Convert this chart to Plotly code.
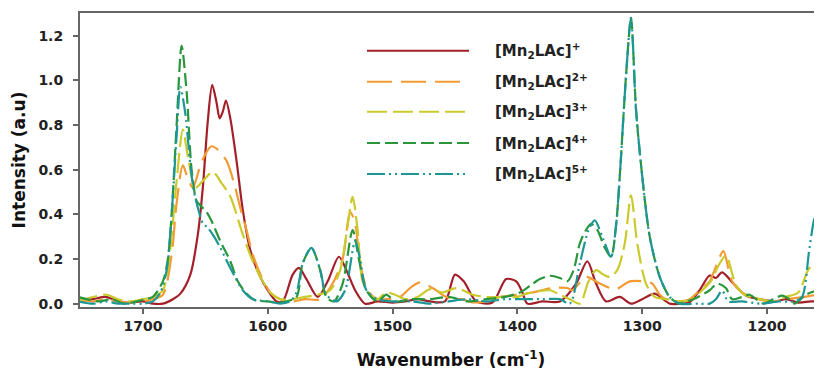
import plotly.graph_objects as go

# ---------------- data ----------------
series_names = ["[Mn<sub>2</sub>LAc]<sup>+</sup>", "[Mn<sub>2</sub>LAc]<sup>2+</sup>",
                "[Mn<sub>2</sub>LAc]<sup>3+</sup>", "[Mn<sub>2</sub>LAc]<sup>4+</sup>",
                "[Mn<sub>2</sub>LAc]<sup>5+</sup>"]

wn_1 = [1752, 1740, 1730, 1722, 1712, 1700, 1692, 1684, 1676, 1670, 1662, 1656, 1652, 1648, 1644.5,
        1641, 1638.5, 1636, 1633.5, 1630, 1625, 1620, 1614, 1606, 1600, 1593, 1588, 1580, 1575, 1569,
        1560, 1552, 1543, 1537, 1530, 1522, 1512, 1500, 1490, 1480, 1470, 1458, 1450, 1443, 1433,
        1420, 1409, 1401, 1396, 1392, 1380, 1366, 1353, 1344, 1337, 1329, 1318, 1309, 1300, 1290,
        1278, 1270, 1262, 1254, 1246, 1241, 1236, 1227, 1217, 1206, 1193, 1185, 1175, 1165, 1155]
int_1 = [0.01, 0.02, 0.03, 0.015, 0.005, 0.01, 0.0, 0.0, 0.02, 0.045, 0.13, 0.31, 0.52, 0.82, 0.98,
         0.90, 0.83, 0.86, 0.91, 0.83, 0.64, 0.42, 0.24, 0.12, 0.06, 0.01, 0.01, 0.13, 0.16, 0.11,
         0.03, 0.10, 0.21, 0.15, 0.06, 0.0, 0.01, 0.005, 0.01, 0.02, 0.01, 0.01, 0.13, 0.10, 0.01,
         0.005, 0.11, 0.10, 0.05, 0.0, 0.01, 0.01, 0.09, 0.19, 0.09, 0.01, 0.03, 0.0, 0.02, 0.045,
         0.0, 0.0, 0.006, 0.06, 0.126, 0.115, 0.14, 0.09, 0.036, 0.02, 0.01, 0.02, 0.005, 0.01, 0.01]

wn_2 = [1752, 1740, 1730, 1720, 1710, 1700, 1692, 1684, 1677, 1673, 1668, 1664, 1660, 1655, 1650,
        1645, 1640, 1633, 1627, 1622, 1617, 1612, 1605, 1598, 1590, 1580, 1570, 1558, 1548, 1540,
        1534, 1530, 1526, 1520, 1512, 1505, 1494, 1486, 1478, 1468, 1457, 1445, 1436, 1425, 1414,
        1400, 1388, 1372, 1360, 1356, 1345, 1334, 1321, 1310, 1300, 1292, 1286, 1278, 1270, 1262,
        1254, 1246, 1240, 1235, 1228, 1220, 1207, 1195, 1185, 1170, 1161, 1155]
int_2 = [0.02, 0.01, 0.02, 0.01, 0.005, 0.01, 0.02, 0.04, 0.22, 0.45, 0.62, 0.56, 0.52, 0.60, 0.67,
         0.705, 0.69, 0.64, 0.54, 0.43, 0.33, 0.22, 0.12, 0.05, 0.02, 0.01, 0.02, 0.02, 0.09, 0.20,
         0.41, 0.36, 0.18, 0.06, 0.02, 0.02, 0.03, 0.07, 0.095, 0.07, 0.03, 0.02, 0.006, 0.01, 0.03,
         0.04, 0.05, 0.07, 0.07, 0.06, 0.12, 0.09, 0.065, 0.10, 0.10, 0.09, 0.04, 0.01, 0.01, 0.02,
         0.06, 0.10, 0.18, 0.235, 0.10, 0.05, 0.02, 0.01, 0.02, 0.03, 0.04, 0.05]

wn_3 = [1752, 1740, 1729, 1720, 1710, 1700, 1692, 1684, 1678, 1673, 1668, 1664, 1658, 1652, 1644,
        1637, 1630, 1620, 1612, 1605, 1598, 1590, 1580, 1570, 1560, 1550, 1542, 1536, 1532, 1528,
        1524, 1518, 1512, 1505, 1498, 1490, 1480, 1470, 1460, 1449, 1436, 1425, 1410, 1400, 1393,
        1374, 1366, 1358, 1350, 1343, 1337, 1331, 1326, 1320, 1314, 1309, 1304, 1297, 1290, 1280,
        1270, 1260, 1252, 1245, 1239, 1233, 1225, 1218, 1205, 1195, 1185, 1175, 1166, 1160, 1155]
int_3 = [0.01, 0.03, 0.04, 0.02, 0.01, 0.02, 0.03, 0.06, 0.25, 0.55, 0.78, 0.66, 0.52, 0.55, 0.59,
         0.54, 0.48, 0.31, 0.19, 0.11, 0.05, 0.02, 0.02, 0.03, 0.04, 0.06, 0.15, 0.35, 0.478, 0.33,
         0.10, 0.04, 0.02, 0.05, 0.04, 0.02, 0.03, 0.065, 0.05, 0.07, 0.04, 0.03, 0.03, 0.03, 0.045,
         0.06, 0.04, 0.02, 0.0, 0.10, 0.15, 0.13, 0.12, 0.15, 0.27, 0.485, 0.27, 0.09, 0.03, 0.02,
         0.01, 0.02, 0.06, 0.10, 0.17, 0.215, 0.085, 0.04, 0.02, 0.01, 0.03, 0.05, 0.16, 0.17, 0.15]

wn_4 = [1752, 1745, 1735, 1725, 1715, 1705, 1698, 1692, 1684, 1680, 1677, 1673, 1669, 1665, 1661,
        1657, 1654, 1649, 1645, 1638, 1630, 1624, 1617, 1610, 1600, 1590, 1585, 1577, 1572, 1565,
        1558, 1553, 1547, 1540, 1532, 1527, 1521, 1512, 1505, 1498, 1485, 1470, 1455, 1440, 1425,
        1410, 1398, 1390, 1382, 1374, 1366, 1360, 1355, 1350, 1345, 1341, 1336, 1330, 1325, 1321,
        1318, 1313, 1309, 1305, 1300, 1294, 1286, 1278, 1270, 1265, 1259, 1246, 1240, 1233, 1228,
        1220, 1214, 1203, 1195, 1188, 1182, 1178, 1169, 1160, 1155]
int_4 = [0.03, 0.02, 0.01, 0.02, 0.0, 0.01, 0.02, 0.03, 0.10, 0.20, 0.40, 0.80, 1.155, 0.95, 0.60,
         0.46, 0.44, 0.41, 0.37, 0.28, 0.19, 0.10, 0.045, 0.015, 0.01, 0.005, 0.01, 0.03, 0.18, 0.25,
         0.15, 0.03, 0.01, 0.09, 0.33, 0.20, 0.06, 0.01, 0.04, 0.01, 0.02, 0.02, 0.03, 0.01, 0.02,
         0.03, 0.05, 0.08, 0.11, 0.125, 0.115, 0.10, 0.15, 0.27, 0.33, 0.358, 0.33, 0.25, 0.21, 0.35,
         0.57, 1.02, 1.28, 0.87, 0.57, 0.30, 0.12, 0.03, 0.0, 0.01, 0.02, 0.06, 0.09, 0.07, 0.02,
         0.03, 0.04, 0.0, 0.02, 0.036, 0.02, 0.0, 0.04, 0.06, 0.07]

wn_5 = [1752, 1740, 1730, 1720, 1710, 1700, 1692, 1686, 1681, 1677, 1673, 1670, 1666, 1662, 1659,
        1656, 1652, 1648, 1643, 1638, 1630, 1620, 1612, 1600, 1590, 1582, 1577, 1572, 1565, 1558,
        1553, 1545, 1538, 1530, 1526, 1521, 1512, 1500, 1485, 1470, 1455, 1440, 1425, 1410, 1395,
        1380, 1366, 1358, 1350, 1343, 1338, 1332, 1325, 1321, 1318, 1313, 1309, 1305, 1300, 1294,
        1286, 1278, 1270, 1255, 1246, 1241, 1236, 1231, 1220, 1205, 1190, 1178, 1172, 1166, 1161,
        1157, 1154]
int_5 = [0.01, 0.0, 0.01, 0.0, 0.0, 0.0, 0.01, 0.05, 0.15, 0.40, 0.75, 0.97, 0.85, 0.62, 0.50,
         0.43, 0.36, 0.34, 0.30, 0.25, 0.16, 0.06, 0.02, 0.01, 0.0, 0.01, 0.05, 0.18, 0.25, 0.15,
         0.04, 0.01, 0.06, 0.28, 0.20, 0.06, 0.02, 0.01, 0.01, 0.0, 0.01, 0.02, 0.01, 0.02, 0.02,
         0.02, 0.02, 0.0, 0.18, 0.33, 0.373, 0.30, 0.21, 0.35, 0.57, 1.02, 1.28, 0.87, 0.57, 0.30,
         0.12, 0.03, 0.0, 0.0, 0.0, 0.02, 0.058, 0.01, 0.01, 0.0, 0.01, 0.01, 0.03, 0.25, 0.395,
         0.36, 0.33]

x_ticks = [1700, 1600, 1500, 1400, 1300, 1200]
y_ticks = [0.0, 0.2, 0.4, 0.6, 0.8, 1.0, 1.2]

# ---------------- styles ----------------
colors = ["#A3202A", "#F49A34", "#CACA2C", "#2A963C", "#1F9696"]
dashes = ["solid", "25px,9px", "20px,6px", "13px,5px", "18px,4px,2px,4px,2px,4px"]
FONT = "DejaVu Sans, Verdana, Arial, sans-serif"

xs = [wn_1, wn_2, wn_3, wn_4, wn_5]
ys = [int_1, int_2, int_3, int_4, int_5]

fig = go.Figure()
for i in range(5):
    fig.add_trace(go.Scatter(x=xs[i], y=ys[i], mode="lines", name=series_names[i],
                             line=dict(color=colors[i], width=2.2, dash=dashes[i],
                                       shape="spline", smoothing=0.8),
                             hoverinfo="skip", showlegend=False))

# custom legend (long line samples)
leg_x0, leg_x1, txt_x = 0.3868, 0.5243, 0.5566
leg_y = [0.8718, 0.7663, 0.6643, 0.5578, 0.4524]
shapes = []
annotations = []
for i in range(5):
    shapes.append(dict(type="line", xref="paper", yref="paper", x0=leg_x0, x1=leg_x1,
                       y0=leg_y[i], y1=leg_y[i],
                       line=dict(color=colors[i], width=2, dash=dashes[i])))
    annotations.append(dict(xref="paper", yref="paper", x=txt_x, y=leg_y[i], text=series_names[i],
                            showarrow=False, xanchor="left", yanchor="middle",
                            font=dict(family=FONT, size=15, color="#222", weight="bold")))

# the page body adds an 8px offset; figure size and margins compensate for it
fig.update_layout(
    width=814, height=362,
    margin=dict(l=72, r=0, t=5, b=63),
    paper_bgcolor="white", plot_bgcolor="white",
    shapes=shapes, annotations=annotations,
    hovermode=False,
    xaxis=dict(range=[1750.4, 1156], tickvals=x_ticks, ticktext=[str(v) for v in x_ticks],
               ticks="outside", ticklen=5, tickwidth=1.5, tickcolor="#666",
               showline=True, linecolor="#666", linewidth=2, mirror=True,
               showgrid=False, zeroline=False, automargin=False,
               tickfont=dict(family=FONT, size=14, color="#222", weight="bold"),
               title=dict(text="Wavenumber (cm<sup>-1</sup>)", standoff=21,
                          font=dict(family=FONT, size=17, color="#111", weight="bold"))),
    yaxis=dict(range=[-0.015, 1.302], tickvals=y_ticks, ticktext=[f"{v:.1f}" for v in y_ticks],
               ticks="outside", ticklen=5, tickwidth=1.5, tickcolor="#666",
               showline=True, linecolor="#666", linewidth=2, ticklabelstandoff=7,
               showgrid=False, zeroline=False, automargin=False,
               tickfont=dict(family=FONT, size=14, color="#222", weight="bold"),
               title=dict(text="Intensity (a.u)", standoff=8,
                          font=dict(family=FONT, size=17, color="#111", weight="bold"))),
)

fig.write_html("out.html", config={"displayModeBar": False})
